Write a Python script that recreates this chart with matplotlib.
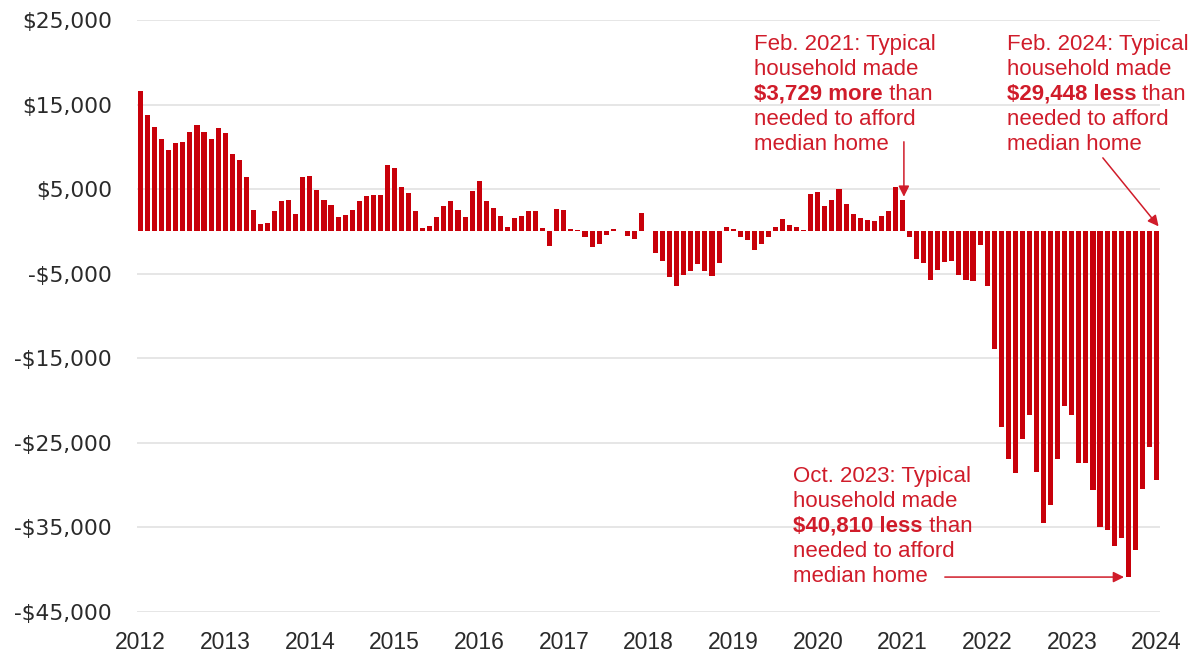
import matplotlib
matplotlib.use("Agg")
import matplotlib.pyplot as plt
from matplotlib import font_manager
import numpy as np

# monthly gap between typical household income and income needed to afford
# the median home, Feb. 2012 - Feb. 2024 (dollars)
gap_2012_2015 = [16600, 13800, 12400, 10900, 9600, 10500, 10600, 11700, 12600, 11800, 10900,
                 12200, 11600, 9200, 8500, 6400, 2500, 900, 1000, 2400, 3600, 3700, 2100,
                 6400, 6600, 4900, 3700, 3100, 1700, 2000, 2500, 3600, 4200, 4300, 4300,
                 7900, 7500, 5300, 4500, 2400, 400, 700]
gap_2015_2018 = [1700, 3000, 3600, 2500, 1700, 4800, 6000, 3600, 2800, 1800, 500, 1600,
                 1800, 2400, 2400, 400, -1700, 2600, 2500, 300, 200, -700, -1800, -1500,
                 -400, 300, 0, -500, -900, 2200, 0]
gap_2018_2021 = [-2500, -3500, -5400, -6400, -5200, -4700, -3900, -4700, -5300, -3700,
                 500, 300, -700, -1000, -2200, -1500, -700, 500, 1500, 800, 500, 200,
                 4400, 4700, 3000, 3700, 5000, 3300, 2100, 1600, 1300, 1200, 1800, 2400,
                 5200, 3729]
gap_2021_2024 = [-700, -3300, -3700, -5800, -4600, -3600, -3500, -5200, -5700, -5900,
                 -1600, -6400, -13900, -23100, -26900, -28600, -24600, -21700, -28500,
                 -34500, -32300, -26900, -20700, -21700, -27400, -27400, -30600, -34900,
                 -35300, -37200, -36300, -40810, -37700, -30400, -25500, -29448]
gap = np.array(gap_2012_2015 + gap_2015_2018 + gap_2018_2021 + gap_2021_2024)

years = [str(y) for y in range(2012, 2025)]
y_ticks = [25000, 15000, 5000, -5000, -15000, -25000, -35000, -45000]

bar_color = "#c8000a"
note_color = "#d01c2a"

names = {f.name for f in font_manager.fontManager.ttflist}
narrow = "Liberation Sans"
for cand in ["Liberation Sans Narrow", "DejaVu Sans Condensed"]:
    if cand in names:
        narrow = cand
        break

fig = plt.figure(figsize=(11.99, 6.56), dpi=100)
ax = fig.add_axes([137 / 1199, 1 - 612 / 656, (1160 - 137) / 1199, (612 - 20) / 656])

x = np.arange(len(gap))
ax.bar(x, gap, width=0.72, color=bar_color, zorder=2)

ax.set_xlim(-0.5, len(gap) - 0.5)
ax.set_ylim(-45000, 25000)
ax.set_yticks(y_ticks)
ax.set_yticklabels([f"-${abs(v):,.0f}" if v < 0 else f"${v:,.0f}" for v in y_ticks],
                   fontsize=15.7, family="DejaVu Sans", color="#2a2a2a")
ax.set_xticks(np.arange(0, len(gap) + 1, 12))
ax.set_xticklabels(years, fontsize=16.5, family=narrow, color="#2a2a2a")
ax.tick_params(axis="both", length=0)
ax.tick_params(axis="y", pad=18)
ax.tick_params(axis="x", pad=14)
ax.grid(axis="y", color="#e4e4e4", linewidth=1.3, zorder=0)
ax.set_axisbelow(True)
for s in ax.spines.values():
    s.set_visible(False)


def note(x0, y0, step, head, bold, tail):
    """five-line annotation, third line partly bold"""
    kw = dict(fontsize=16, family="Liberation Sans", color=note_color, va="baseline", ha="left")
    ax.text(x0, y0, head[0], **kw)
    ax.text(x0, y0 - step, head[1], **kw)
    tb = ax.text(x0, y0 - 2 * step, bold, fontweight="bold", **kw)
    ax.annotate(" " + tail[0], xy=(1, 0), xycoords=tb, va="bottom", ha="left",
                fontsize=16, family="Liberation Sans", color=note_color)
    ax.text(x0, y0 - 3 * step, tail[1], **kw)
    ax.text(x0, y0 - 4 * step, tail[2], **kw)


step = 2950
note(87.0, 21450, step, ["Feb. 2021: Typical", "household made"], "$3,729 more",
     ["than", "needed to afford", "median home"])
note(122.8, 21450, step, ["Feb. 2024: Typical", "household made"], "$29,448 less",
     ["than", "needed to afford", "median home"])
note(92.5, -29630, step, ["Oct. 2023: Typical", "household made"], "$40,810 less",
     ["than", "needed to afford", "median home"])

arrow = dict(arrowstyle="-|>", color=note_color, lw=1.1, mutation_scale=16,
             shrinkA=0, shrinkB=0)
ax.annotate("", xy=(108.2, 4100), xytext=(108.2, 10600), arrowprops=arrow)
ax.annotate("", xy=(144.3, 600), xytext=(136.4, 8700), arrowprops=arrow)
ax.annotate("", xy=(139.4, -40870), xytext=(114.0, -40870), arrowprops=arrow)

fig.savefig("out.png", dpi=100, facecolor="white")
